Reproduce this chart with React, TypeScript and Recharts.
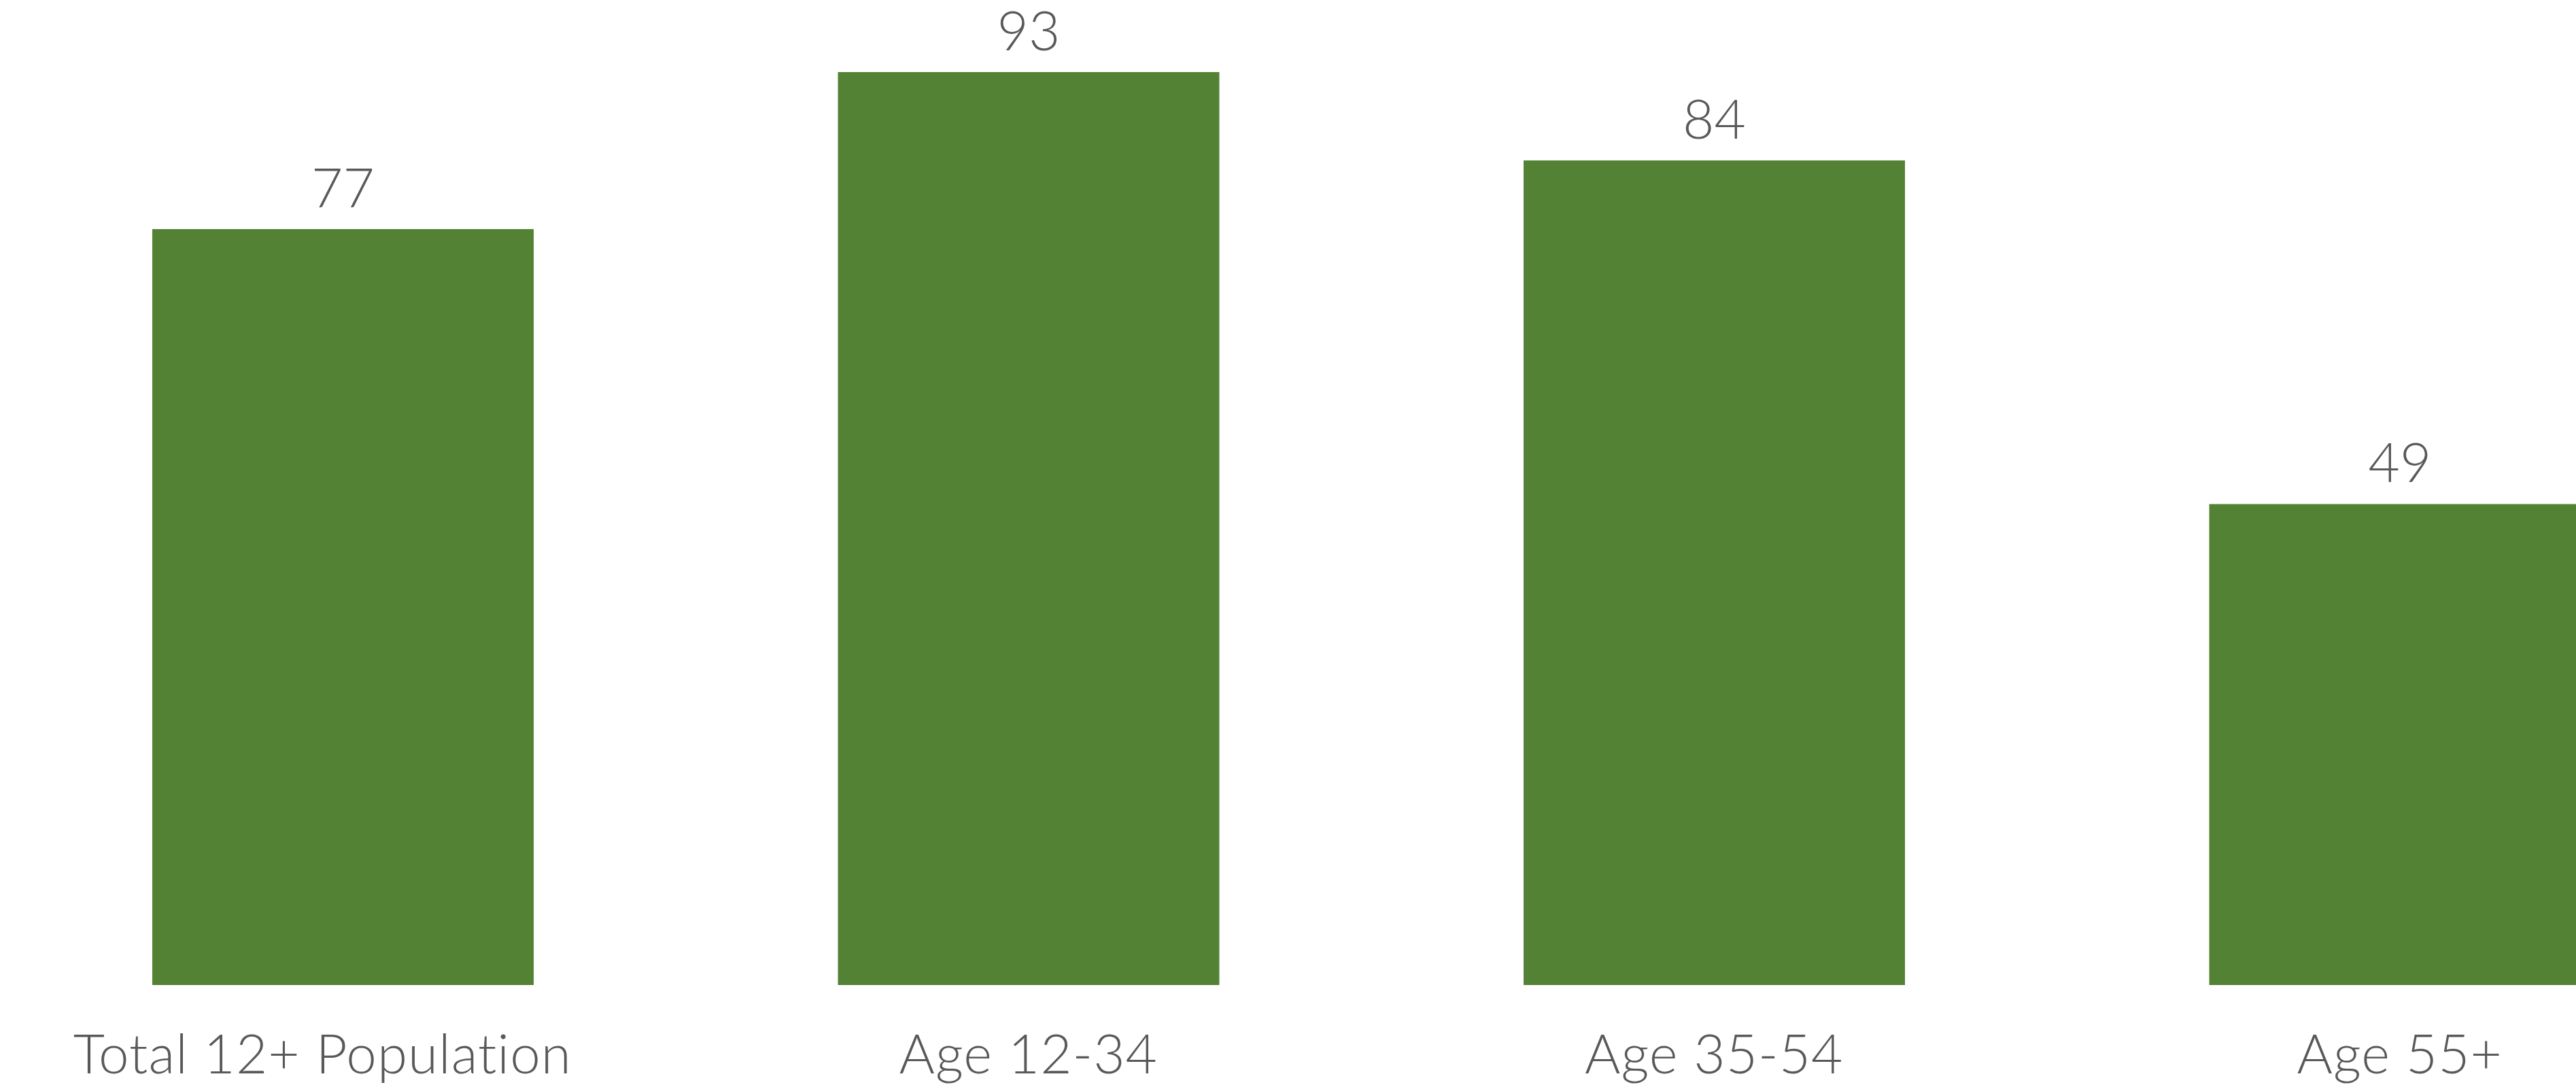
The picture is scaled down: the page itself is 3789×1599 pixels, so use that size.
import React, {FC} from 'react';
import {BarChart, Bar, XAxis, YAxis, LabelList} from 'recharts';

const categories = ['Total 12+ Population', 'Age 12-34', 'Age 35-54', 'Age 55+'];
const values = [77, 93, 84, 49];

const data = categories.map((name, i) => ({name, value: values[i]}));

const FONT = 'Lato, "Open Sans", sans-serif';
const TEXT_COLOR = '#595959';

// first label sits a little left of its bar in the original
const CategoryTick: FC<any> = ({x, y, payload, index}) => (
     <text
          x={x}
          y={y + 122}
          dx={index === 0 ? -30 : 0}
          textAnchor="middle"
          fontFamily={FONT}
          fontWeight={300}
          fontSize={80}
          letterSpacing={1}
          fill={TEXT_COLOR}
     >
          {payload.value}
     </text>
);

const App: FC = () => {
     return (
          <div
               style={{
                    position: 'absolute',
                    left: 0,
                    top: 0,
                    width: 3789,
                    height: 1599,
                    overflow: 'hidden',
                    background: '#fff',
               }}
          >
               <BarChart
                    width={4034}
                    height={1599}
                    data={data}
                    margin={{top: 5, right: 0, bottom: 0, left: 0}}
               >
                    <XAxis
                         dataKey="name"
                         height={150}
                         axisLine={false}
                         tickLine={false}
                         interval={0}
                         tick={<CategoryTick />}
                    />
                    <YAxis hide domain={[0, 100]} />
                    <Bar
                         dataKey="value"
                         fill="#548235"
                         barSize={561}
                         isAnimationActive={false}
                    >
                         <LabelList
                              dataKey="value"
                              position="top"
                              offset={32}
                              fill={TEXT_COLOR}
                              fontFamily={FONT}
                              fontWeight={300}
                              fontSize={80}
                         />
                    </Bar>
               </BarChart>
          </div>
     );
};

export default App;
